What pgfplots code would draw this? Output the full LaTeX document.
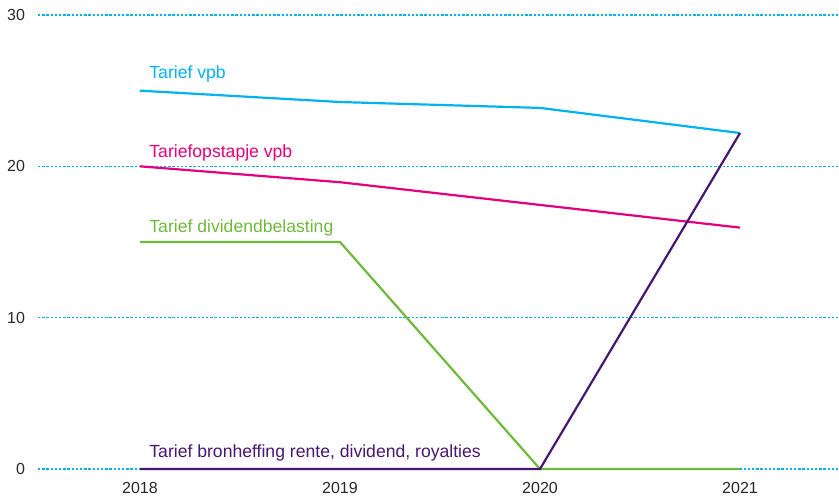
\documentclass[border=0pt]{standalone}
\usepackage{pgfplots}
\pgfplotsset{compat=1.18}
\usepackage{fontspec}
\setmainfont{Liberation Sans}
\definecolor{kcyan}{RGB}{0,178,238}
\definecolor{kmag}{RGB}{228,0,124}
\definecolor{kgreen}{RGB}{112,184,60}
\definecolor{kpurple}{RGB}{72,22,110}
\definecolor{ktext}{RGB}{40,40,40}

\begin{document}
\begin{tikzpicture}
\useasboundingbox (0,0) rectangle (419.5pt,250.5pt);
\begin{axis}[
  at={(19pt,16pt)}, anchor=south west,
  scale only axis,
  width=400.5pt, height=227pt,
  xmin=2017.49, xmax=2021.495,
  ymin=0, ymax=30,
  axis line style={draw=none},
  xtick={2018,2019,2020,2021},
  ytick={0,10,20,30},
  xticklabel style={/pgf/number format/1000 sep={}},
  major tick length=0pt,
  ymajorgrids,
  grid style={color=kcyan, line width=0.8pt, dash pattern=on 1.2pt off 0.9pt},
  tick label style={font=\fontsize{8}{9}\selectfont, text=ktext},
  /pgf/number format/assume math mode=true,
  xticklabel style={yshift=-3pt},
  yticklabel style={xshift=-3pt},
  clip=false,
]
\addplot[kcyan, line width=1.1pt] coordinates {(2018,25)(2019,24.25)(2020,23.86)(2021,22.2)};
\addplot[kmag, line width=1.1pt] coordinates {(2018,20)(2019,18.95)(2020,17.45)(2021,15.95)};
\addplot[kgreen, line width=1.1pt] coordinates {(2018,15)(2019,15)(2020,0)(2021,0)};
\addplot[kpurple, line width=1.1pt] coordinates {(2018,0)(2019,0)(2020,0)(2021,22.2)};
\begin{scope}[font=\fontsize{8.8}{10}\selectfont]
\node[anchor=west, text=kcyan, inner sep=0pt] at (axis cs:2018.045,26.1) {Tarief vpb};
\node[anchor=west, text=kmag, inner sep=0pt] at (axis cs:2018.045,20.9) {Tariefopstapje vpb};
\node[anchor=west, text=kgreen, inner sep=0pt] at (axis cs:2018.045,15.95) {Tarief dividendbelasting};
\node[anchor=west, text=kpurple, inner sep=0pt] at (axis cs:2018.045,1.05) {Tarief bronheffing rente, dividend, royalties};
\end{scope}
\end{axis}
\end{tikzpicture}
\end{document}
